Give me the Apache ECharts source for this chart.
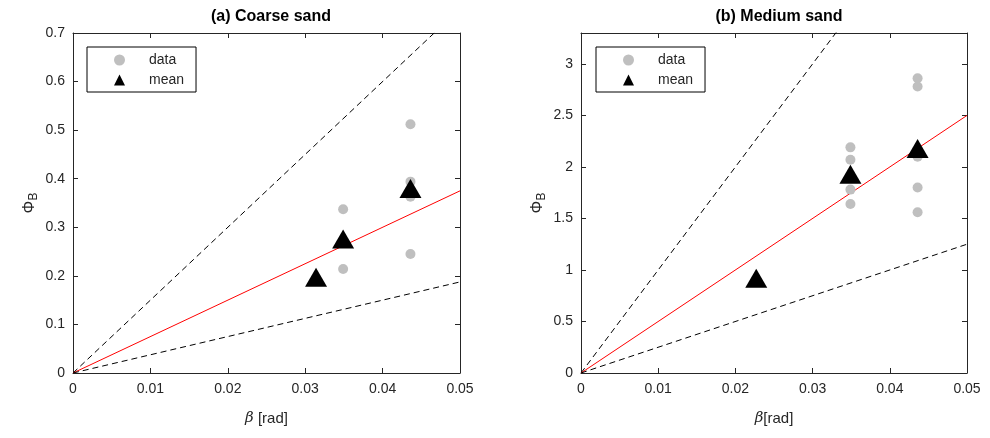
<!DOCTYPE html>
<html>
<head>
<meta charset="utf-8">
<script src="https://cdn.jsdelivr.net/npm/echarts@6/dist/echarts.min.js"></script>
<style>html,body{margin:0;padding:0;background:#fff}#c{width:990px;height:438px}</style>
</head>
<body>
<div id="c"></div>
<script>
// ---- data ----
const titles = ['(a) Coarse sand', '(b) Medium sand'];
const xTickValues = [0, 0.01, 0.02, 0.03, 0.04, 0.05];
const coarseYMax = 0.7, coarseYInterval = 0.1;
const mediumYMax = 3.3, mediumYInterval = 0.5;

const coarseDataX = [0.0349, 0.0349, 0.0436, 0.0436, 0.0436, 0.0436];
const coarseDataY = [0.337, 0.214, 0.512, 0.394, 0.363, 0.245];
const coarseMeanX = [0.0314, 0.0349, 0.0436];
const coarseMeanY = [0.197, 0.276, 0.380];
const coarseSlopes = [15, 7.5, 3.75]; // upper dashed, red fit, lower dashed

const mediumDataX = [0.0349, 0.0349, 0.0349, 0.0349, 0.0436, 0.0436, 0.0436, 0.0436, 0.0436];
const mediumDataY = [2.19, 2.07, 1.78, 1.64, 2.86, 2.78, 2.10, 1.80, 1.56];
const mediumMeanX = [0.0227, 0.0349, 0.0436];
const mediumMeanY = [0.92, 1.93, 2.18];
const mediumSlopes = [100, 50, 25];

// ---- build ----
const FONT = '"Liberation Sans", Arial, Helvetica, sans-serif';
const AX = '#262626';
const xMax = 0.05;
const zip = (xs, ys) => xs.map((x, i) => [x, ys[i]]);

function lineSeries(slopes, xi, yi) {
  const styles = [
    { color: '#000', type: [6, 4] },
    { color: '#ff0000', type: 'solid' },
    { color: '#000', type: [6, 4] }
  ];
  return slopes.map((s, k) => ({
    type: 'line', xAxisIndex: xi, yAxisIndex: yi, silent: true, clip: true,
    showSymbol: false, symbol: 'none', z: 2,
    lineStyle: { width: 1, color: styles[k].color, type: styles[k].type },
    data: [[0, 0], [xMax, s * xMax]]
  }));
}

function xAx(grid, top) {
  return {
    type: 'value', gridIndex: grid, min: 0, max: 0.05, interval: 0.01,
    position: top ? 'top' : 'bottom',
    axisLine: { show: true, onZero: false, lineStyle: { color: AX, width: 1 } },
    axisTick: { show: true, inside: true, length: 5, lineStyle: { color: AX } },
    axisLabel: { show: !top, color: AX, fontFamily: FONT, fontSize: 14, margin: 9,
      formatter: v => (v === 0 ? '0' : String(+v.toFixed(2))) },
    splitLine: { show: false }
  };
}
function yAx(grid, right, max, interval, hideMax) {
  return {
    type: 'value', gridIndex: grid, min: 0, max: max, interval: interval,
    position: right ? 'right' : 'left',
    axisLine: { show: true, onZero: false, lineStyle: { color: AX, width: 1 } },
    axisTick: { show: true, inside: true, length: 5, lineStyle: { color: AX } },
    axisLabel: { show: !right, color: AX, fontFamily: FONT, fontSize: 14, margin: 8,
      showMaxLabel: !hideMax, formatter: v => String(+v.toFixed(2)) },
    splitLine: { show: false }
  };
}

const xAxes = [xAx(0, false), xAx(0, true), xAx(1, false), xAx(1, true)];
xAxes[0].name = '{i|β} [rad]';
xAxes[2].name = '{i|β}[rad]';
[xAxes[0], xAxes[2]].forEach(a => {
  a.nameLocation = 'middle'; a.nameGap = 38;
  a.nameTextStyle = { color: AX, fontFamily: FONT, fontSize: 15,
    rich: { i: { fontFamily: '"DejaVu Serif", serif', fontStyle: 'italic', fontSize: 15, color: AX } } };
});
const yAxes = [yAx(0, false, coarseYMax, coarseYInterval, false), yAx(0, true, coarseYMax, coarseYInterval, false),
               yAx(1, false, mediumYMax, mediumYInterval, true), yAx(1, true, mediumYMax, mediumYInterval, true)];
[[yAxes[0], 33], [yAxes[2], 33]].forEach(([a, g]) => {
  a.name = '{p|Φ}{s|B}';
  a.nameLocation = 'middle'; a.nameGap = g; a.nameRotate = 90;
  a.nameTextStyle = { color: AX, fontFamily: FONT, fontSize: 16,
    rich: { p: { fontSize: 16, color: AX, fontFamily: FONT }, s: { fontSize: 12, color: AX, fontFamily: FONT, padding: [9, 0, 0, 0] } } };
});

function legend(left) {
  return {
    left: left, top: 47, orient: 'vertical',
    backgroundColor: '#fff', borderColor: '#000', borderWidth: 1,
    padding: [6, 12, 5, 27], itemGap: 6, itemWidth: 11, itemHeight: 11,
    textStyle: { color: AX, fontFamily: FONT, fontSize: 14, padding: [0, 0, 0, 19] },
    data: [
      { name: 'data', icon: 'circle', itemStyle: { color: '#bfbfbf' } },
      { name: 'mean', icon: 'triangle', itemStyle: { color: '#000' } }
    ]
  };
}

function scatterSeries(xi, yi, dx, dy, mx, my) {
  return [
    { type: 'scatter', name: 'data', xAxisIndex: xi, yAxisIndex: yi, z: 3,
      symbol: 'circle', symbolSize: 10, itemStyle: { color: '#bfbfbf', opacity: 1 },
      data: zip(dx, dy) },
    { type: 'scatter', name: 'mean', xAxisIndex: xi, yAxisIndex: yi, z: 4,
      symbol: 'triangle', symbolSize: [22, 19], itemStyle: { color: '#000', opacity: 1 },
      data: zip(mx, my) }
  ];
}

const option = {
  animation: false,
  backgroundColor: '#fff',
  textStyle: { fontFamily: FONT },
  title: [
    { text: titles[0], left: 266, top: 4, textAlign: 'center',
      textStyle: { fontFamily: FONT, fontWeight: 'bold', fontSize: 16, color: '#000' } },
    { text: titles[1], left: 774, top: 4, textAlign: 'center',
      textStyle: { fontFamily: FONT, fontWeight: 'bold', fontSize: 16, color: '#000' } }
  ],
  legend: [legend(87), legend(596)],
  grid: [
    { left: 73, right: 530, top: 33, bottom: 65, containLabel: false },
    { left: 581, right: 23, top: 33, bottom: 65, containLabel: false }
  ],
  xAxis: xAxes,
  yAxis: yAxes,
  series: [
    ...lineSeries(coarseSlopes, 0, 0),
    ...scatterSeries(0, 0, coarseDataX, coarseDataY, coarseMeanX, coarseMeanY),
    ...lineSeries(mediumSlopes, 2, 2),
    ...scatterSeries(2, 2, mediumDataX, mediumDataY, mediumMeanX, mediumMeanY)
  ]
};
const chart = echarts.init(document.getElementById('c'), null, { renderer: 'canvas' });
chart.setOption(option);
</script>
</body>
</html>
